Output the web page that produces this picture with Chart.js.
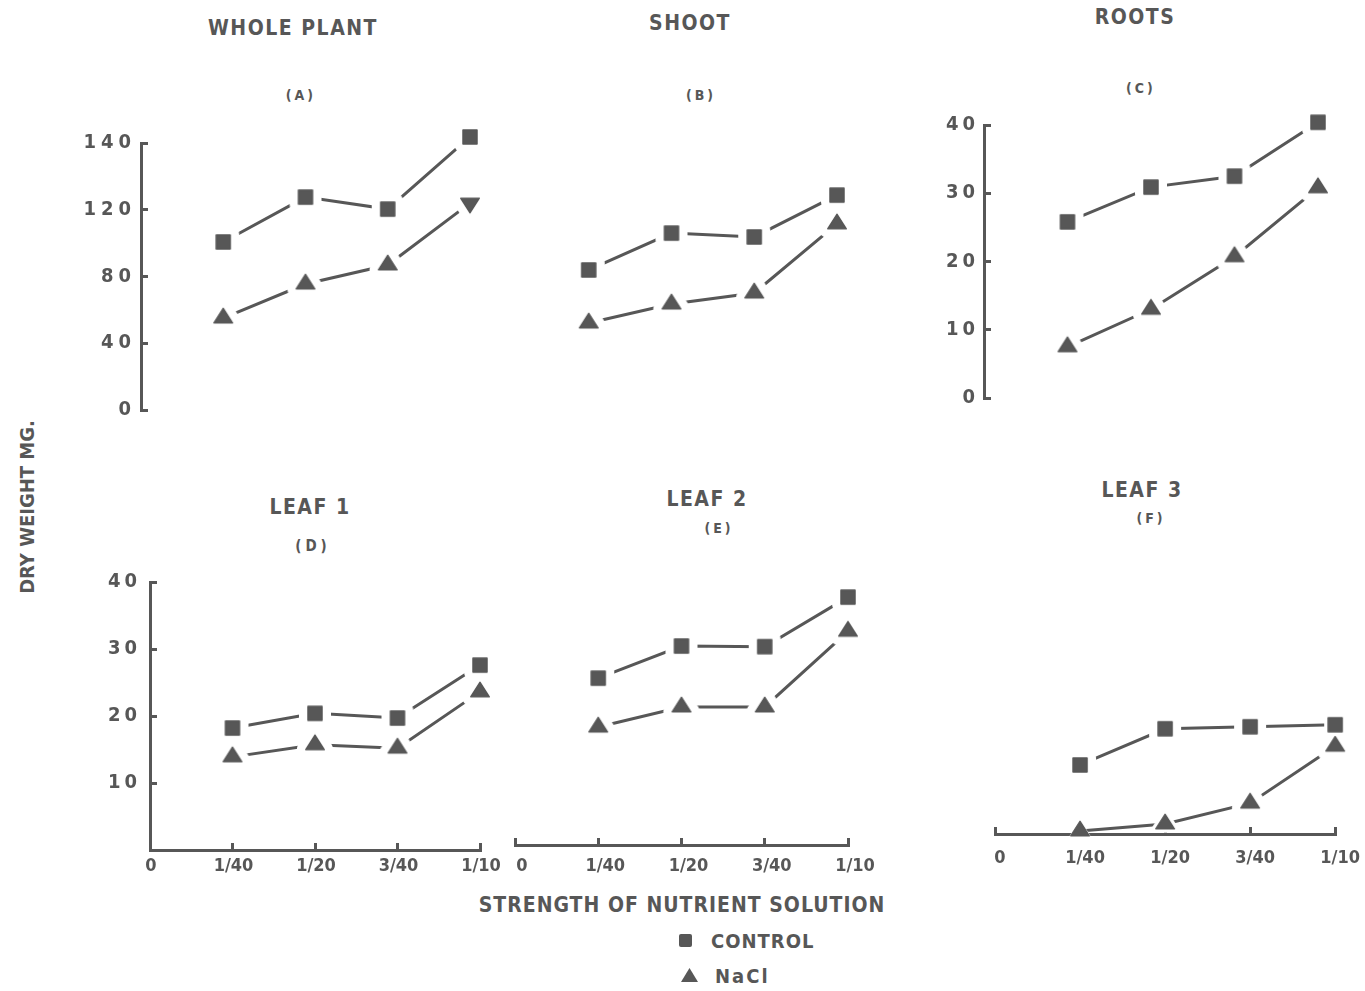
<!DOCTYPE html>
<html><head><meta charset="utf-8">
<script src="https://cdn.jsdelivr.net/npm/chart.js@4/dist/chart.umd.min.js"></script>
<style>
html,body{margin:0;padding:0;background:#fff;}
body{width:1365px;height:991px;position:relative;overflow:hidden;font-family:'Liberation Sans Narrow','DejaVu Sans Condensed',sans-serif;color:#575757;font-weight:bold;}
canvas{position:absolute;}
.t{position:absolute;transform:translate(-50%,-50%);white-space:nowrap;line-height:1;}
.big{font-size:21px;letter-spacing:1.5px;}
.sm{font-size:14px;letter-spacing:3px;}
</style></head><body>
<div class="t big" style="left:293px;top:28px">WHOLE PLANT</div>
<div class="t sm" style="left:301px;top:95px">(A)</div>
<div class="t big" style="left:690px;top:23px">SHOOT</div>
<div class="t sm" style="left:701px;top:95px">(B)</div>
<div class="t big" style="left:1135px;top:17px">ROOTS</div>
<div class="t sm" style="left:1141px;top:88px">(C)</div>
<div class="t big" style="left:310px;top:507px">LEAF 1</div>
<div class="t sm" style="left:313px;top:546px;font-size:15px;letter-spacing:4px">(D)</div>
<div class="t big" style="left:707px;top:499px">LEAF 2</div>
<div class="t sm" style="left:719px;top:528px">(E)</div>
<div class="t big" style="left:1142px;top:490px">LEAF 3</div>
<div class="t sm" style="left:1151px;top:518px">(F)</div>
<div class="t" style="left:27px;top:507px;font-size:20px;transform:translate(-50%,-50%) rotate(-90deg)">DRY WEIGHT MG.</div>
<div class="t" style="left:682px;top:905px;font-size:21px;letter-spacing:1px">STRENGTH OF NUTRIENT SOLUTION</div>
<div style="position:absolute;left:679px;top:934px;width:13px;height:13px;background:#575757;border-radius:2px"></div>
<div class="t" style="left:711px;top:941px;transform:translate(0,-50%);font-size:20px;letter-spacing:1px">CONTROL</div>
<div style="position:absolute;left:681px;top:968px;width:17px;height:14px;background:#575757;clip-path:polygon(50% 0,100% 100%,0 100%)"></div>
<div class="t" style="left:715px;top:976px;transform:translate(0,-50%);font-size:20px;letter-spacing:2px">NaCl</div>
<script>
// ---- data ----
const strengthLabels = ['0', '1/40', '1/20', '3/40', '1/10'];
const wholeTicks = [0, 40, 80, 120, 140];
const rootsTicks = [0, 10, 20, 30, 40];
const leafTicks = [10, 20, 30, 40];
const wholeControl = [100.7, 123.8, 120.2, 141.8];
const wholeNaCl = [55.1, 75.5, 86.9, 122.0];
const shootControl = [83.9, 106.0, 103.7, 124.4];
const shootNaCl = [52.1, 63.5, 70.1, 111.5];
const rootsControl = [25.8, 30.9, 32.5, 40.4];
const rootsNaCl = [7.5, 13.0, 20.7, 30.8];
const leaf1Control = [18.2, 20.4, 19.7, 27.6];
const leaf1NaCl = [13.9, 15.7, 15.2, 23.6];
const leaf2Control = [24.9, 29.7, 29.6, 37.0];
const leaf2NaCl = [17.6, 20.6, 20.6, 31.9];
const leaf3Control = [10.3, 15.7, 16.0, 16.3];
const leaf3NaCl = [0.45, 1.5, 4.6, 13.1];

// ---- style ----
const INK = '#575757';
const HALO = '#ffffff';
const FONT = "'Liberation Sans Narrow','DejaVu Sans Condensed',sans-serif";
Chart.defaults.font.family = FONT;
Chart.defaults.font.weight = 'bold';
Chart.defaults.font.size = 20;
Chart.defaults.color = INK;

function markerCanvas(kind, halo) {
  const S = 52, c = document.createElement('canvas');
  c.width = S; c.height = S;
  const g = c.getContext('2d'), cx = S / 2, cy = S / 2;
  g.beginPath();
  if (kind === 'square') {
    const hs = 7;
    g.rect(cx - hs, cy - hs, 2 * hs, 2 * hs);
  } else {
    const W = 18.5, H = 14.5, dir = kind === 'down' ? -1 : 1;
    g.moveTo(cx, cy - dir * 2 * H / 3);
    g.lineTo(cx + W / 2, cy + dir * H / 3);
    g.lineTo(cx - W / 2, cy + dir * H / 3);
    g.closePath();
  }
  if (halo) { g.strokeStyle = HALO; g.lineWidth = 2 * halo; g.lineJoin = 'round'; g.stroke(); }
  g.fillStyle = INK; g.fill();
  g.strokeStyle = INK; g.lineWidth = 1.5; g.lineJoin = 'round'; g.stroke();
  return c;
}
const SQ = markerCanvas('square', 9);
const SQ_TIGHT = markerCanvas('square', 4);
const TRI = markerCanvas('tri', 9);
const TRI_LOW = markerCanvas('tri', 4);
const TRI_DOWN = markerCanvas('down', 9);
const TRI_BARE = markerCanvas('tri', 1);

function makeYScale(id, breaks, tickVals, spacing) {
  const n = breaks.length - 1;
  class S extends Chart.LinearScale {
    buildTicks() { return tickVals.map(v => ({ value: v })); }
    getPixelForValue(value) {
      let i = 0;
      while (i < n - 1 && value > breaks[i + 1]) i++;
      const dec = (i + (value - breaks[i]) / (breaks[i + 1] - breaks[i])) / n;
      return this.getPixelForDecimal(dec);
    }
    getValueForPixel(pixel) {
      const d = this.getDecimalForPixel(pixel) * n;
      const i = Math.min(Math.max(Math.floor(d), 0), n - 1);
      return breaks[i] + (d - i) * (breaks[i + 1] - breaks[i]);
    }
    drawLabels(area) {
      const ctx = this.ctx;
      ctx.save();
      try { ctx.letterSpacing = spacing + 'px'; } catch (e) {}
      super.drawLabels(area);
      ctx.restore();
    }
  }
  S.id = id;
  S.defaults = Chart.LinearScale.defaults;
  Chart.register(S);
  return id;
}

const PAD = { l: 90, r: 40, t: 30, b: 50 };
const YW = 80, XH = 40;

const panels = [
  { key: 'A', area: { l: 141, r: 470, t: 143, b: 410 }, breaks: wholeTicks, yTicks: wholeTicks, showY: true, showX: false, ySpacing: 5, yPad: 12,
    control: wholeControl, nacl: wholeNaCl, naclStyles: [TRI, TRI, TRI, TRI, TRI_DOWN] },
  { key: 'B', area: { l: 506, r: 837, t: 143, b: 410 }, breaks: wholeTicks, yTicks: wholeTicks, showY: false, showX: false, ySpacing: 5,
    control: shootControl, nacl: shootNaCl },
  { key: 'C', area: { l: 984, r: 1318, t: 125, b: 398 }, breaks: rootsTicks, yTicks: rootsTicks, showY: true, showX: false, ySpacing: 4, yPad: 12,
    control: rootsControl, nacl: rootsNaCl },
  { key: 'D', area: { l: 150, r: 480, t: 582, b: 850 }, breaks: rootsTicks, yTicks: leafTicks, showY: true, showX: true, ySpacing: 4, yPad: 16, xPad: 13, labelOffset: 1,
    control: leaf1Control, nacl: leaf1NaCl },
  { key: 'E', area: { l: 515, r: 848, t: 577, b: 845 }, breaks: rootsTicks, yTicks: leafTicks, showY: false, showX: true, ySpacing: 4, xPad: 18, labelOffset: 7,
    control: leaf2Control, nacl: leaf2NaCl },
  { key: 'F', area: { l: 995, r: 1336, t: 566, b: 834 }, breaks: rootsTicks, yTicks: leafTicks, showY: false, showX: true, ySpacing: 4, xPad: 21, labelOffset: 5,
    control: leaf3Control, nacl: leaf3NaCl, controlStyles: [SQ, SQ, SQ, SQ, SQ_TIGHT], naclStyles: [TRI, TRI_BARE, TRI_LOW, TRI, TRI] }
];

panels.forEach(p => {
  const a = p.area;
  const w = a.r - a.l + PAD.l + PAD.r, h = a.b - a.t + PAD.t + PAD.b;
  const cv = document.createElement('canvas');
  cv.width = w; cv.height = h;
  cv.style.left = (a.l - PAD.l) + 'px'; cv.style.top = (a.t - PAD.t) + 'px';
  cv.style.width = w + 'px'; cv.style.height = h + 'px';
  document.body.appendChild(cv);
  const yId = makeYScale('y' + p.key, p.breaks, p.yTicks, p.ySpacing);
  const naclStyles = p.naclStyles || [TRI, TRI, TRI, TRI, TRI];
  const controlStyles = p.controlStyles || [SQ, SQ, SQ, SQ, SQ];
  const ds = (label, vals, styleFn) => ({
    label, data: [null].concat(vals), borderColor: INK, backgroundColor: INK, borderWidth: 3,
    tension: 0, fill: false, clip: false, pointRadius: 12, pointHoverRadius: 12, pointBorderWidth: 0,
    pointStyle: styleFn
  });
  const xScale = {
    type: 'category', display: p.showX, offset: false,
    grid: { display: true, drawOnChartArea: false, drawTicks: true, tickLength: -7, color: INK, lineWidth: 3 },
    border: { display: true, color: INK, width: 3 },
    ticks: { autoSkip: false, maxRotation: 0, minRotation: 0, padding: p.xPad || 10, labelOffset: p.labelOffset || 0, color: INK, font: { size: 18, weight: 'bold' } }
  };
  if (p.showX) xScale.afterFit = s => { s.height = XH; };
  const yScale = {
    type: yId, display: p.showY, min: p.breaks[0], max: p.breaks[p.breaks.length - 1],
    grid: { display: true, drawOnChartArea: false, drawTicks: true, tickLength: -7, color: INK, lineWidth: 3 },
    border: { display: true, color: INK, width: 3 },
    ticks: { padding: p.yPad || 12, color: INK, font: { size: 20, weight: 'bold' }, callback: v => String(v) }
  };
  if (p.showY) yScale.afterFit = s => { s.width = YW; };
  new Chart(cv, {
    type: 'line',
    data: {
      labels: strengthLabels,
      datasets: [
        ds('CONTROL', p.control, c => controlStyles[c.dataIndex]),
        ds('NaCl', p.nacl, c => naclStyles[c.dataIndex])
      ]
    },
    options: {
      responsive: false, animation: false, events: [],
      layout: { padding: { left: p.showY ? PAD.l - YW : PAD.l, right: PAD.r, top: PAD.t, bottom: p.showX ? PAD.b - XH : PAD.b } },
      plugins: { legend: { display: false }, tooltip: { enabled: false }, title: { display: false } },
      scales: { x: xScale, y: yScale }
    }
  });
});
</script>
</body></html>
